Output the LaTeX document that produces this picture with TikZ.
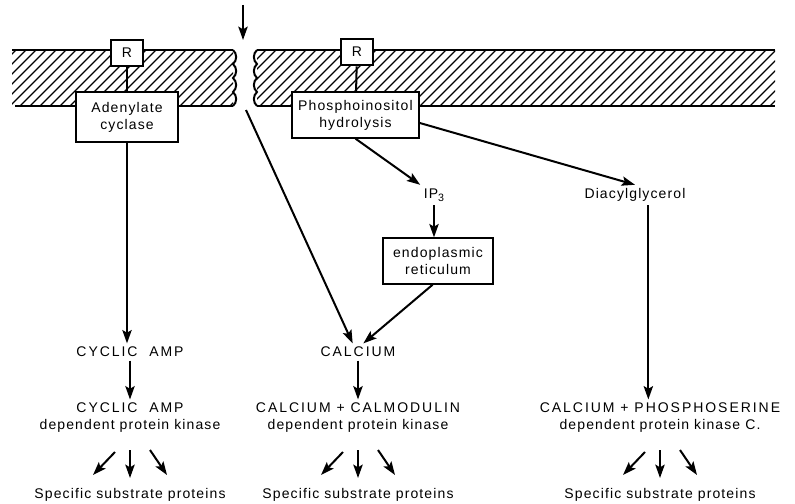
\documentclass[tikz,border=0pt]{standalone}
\usepackage{fontspec}
\setmainfont{Liberation Sans}[LetterSpace=8]
\newcommand\capsfont{\addfontfeature{LetterSpace=14}}
\usetikzlibrary{arrows.meta}

\begin{document}
\begin{tikzpicture}[x=0.75pt,y=-0.75pt,line width=1.5pt,
	font=\fontsize{10.5}{12.8}\selectfont,
	tip/.style={-{Stealth[length=10pt,width=7pt,inset=2pt]}},
	hatch/.style={line width=0.9pt},
	box/.style={draw,fill=white,align=center,inner sep=2pt},
	lbl/.style={align=center,inner sep=2pt}]
	\useasboundingbox (0,0) rectangle (795,503);
	% membrane, left and right piece
	\begin{scope}
		\clip (12,50) rectangle (233,106);
		\foreach \h in {-60,-50,...,240} \draw[hatch] (\h,106) -- ++(56,-56);
	\end{scope}
	\begin{scope}
		\clip (257,50) rectangle (775,106);
		\foreach \h in {200,210,...,780} \draw[hatch] (\h,106) -- ++(56,-56);
	\end{scope}
	\draw (12,50) -- (233,50);
	\draw (15,106) -- (233,106);
	\draw (257,50) -- (775,50);
	\draw (257,106) -- (775,106);
	\draw (233,50) to[out=-40,in=40] (233,64) to[out=-40,in=40] (233,78)
		to[out=-40,in=40] (233,92) to[out=-40,in=40] (233,106);
	\draw (257,50) to[out=-140,in=140] (257,64) to[out=-140,in=140] (257,78)
		to[out=-140,in=140] (257,92) to[out=-140,in=140] (257,106);
	% receptors and enzymes
	\node[box,minimum width=24pt,minimum height=20pt] (rl) at (127,53) {R};
	\node[box,minimum width=24pt,minimum height=20pt] (rr) at (357,52) {R};
	\node[box,minimum width=76pt,minimum height=37pt] (ac) at (127,117) {Adenylate\\cyclase};
	\node[box,minimum width=95pt,minimum height=34pt] (pi) at (355.5,115) {Phosphoinositol\\hydrolysis};
	\node[lbl] (ip) at (434,195) {IP\raisebox{-0.45ex}{\footnotesize 3}};
	\node[lbl] (dag) at (635,195) {Diacylglycerol};
	\node[box,minimum width=82pt,minimum height=34pt] (er) at (438,261) {endoplasmic\\reticulum};
	% second messengers and kinases
	\node[lbl] (camp) at (130,352) {\capsfont CYCLIC\ \ AMP};
	\node[lbl] (ca) at (358,352) {\capsfont CALCIUM};
	\node[lbl] (campk) at (130,418) {{\capsfont CYCLIC\ \ AMP}\\dependent protein kinase};
	\node[lbl] (cacam) at (358,418) {{\capsfont CALCIUM\ +\ CALMODULIN}\\dependent protein kinase};
	\node[lbl] (capk) at (660,418) {{\capsfont CALCIUM\ +\ PHOSPHOSERINE}\\dependent protein kinase C.};
	\node[lbl] (sub1) at (130,495) {Specific substrate proteins};
	\node[lbl] (sub2) at (358,495) {Specific substrate proteins};
	\node[lbl] (sub3) at (660,495) {Specific substrate proteins};
	% connectors
	\coordinate (sig) at (243,5);
	\coordinate (gap) at (243,40);
	\coordinate (gapin) at (246,110);
	\draw[tip] (sig) -- (gap);
	\draw (rl) -- (ac);
	\draw (rr) -- (pi);
	\draw[tip] (ac.south) -- (ac.south |- camp.north);
	\draw[tip] (gapin) -- ([xshift=-4pt]ca.north);
	\draw[tip] (pi.south) -- (ip.north west);
	\draw[tip] ([yshift=-6pt]pi.east) -- (dag.north);
	\draw[tip] (ip.south) -- (ip.south |- er.north);
	\draw[tip] ([xshift=-4pt]er.south) -- ([xshift=4pt]ca.north);
	\draw[tip] ([xshift=10pt]dag.south) -- ([xshift=10pt]dag.south |- capk.north);
	\draw[tip] (camp) -- (campk);
	\draw[tip] (ca) -- (cacam);
	\foreach \k/\s in {campk/sub1,cacam/sub2,capk/sub3} {
		\draw[tip] ([shift={(-15,34)}]\k.center) -- ([shift={(-37,-20)}]\s.center);
		\draw[tip] ([shift={(0,32)}]\k.center) -- ([shift={(0,-17)}]\s.center);
		\draw[tip] ([shift={(20,32)}]\k.center) -- ([shift={(37,-20)}]\s.center);
	}
\end{tikzpicture}
\end{document}
